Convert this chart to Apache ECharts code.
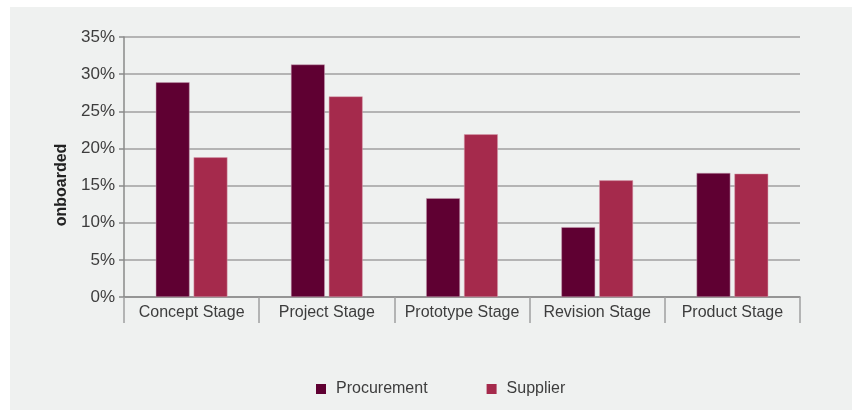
<!DOCTYPE html>
<html>
<head>
<meta charset="utf-8">
<script src="https://cdn.jsdelivr.net/npm/echarts@6/dist/echarts.min.js"></script>
<style>
  html, body { margin: 0; padding: 0; background: #ffffff; }
  #chart { width: 852px; height: 410px; }
</style>
</head>
<body>
<div id="chart"></div>
<script>
// Share of onboarding by stage, per group
const stages = ['Concept Stage', 'Project Stage', 'Prototype Stage', 'Revision Stage', 'Product Stage'];
const procurement = [28.9, 31.3, 13.3, 9.4, 16.7];
const supplier = [18.8, 27.0, 21.9, 15.7, 16.6];
const yTicks = [0, 5, 10, 15, 20, 25, 30, 35];
const yTitle = 'onboarded';

const FONT = '"Liberation Sans Narrow", "Arial Narrow", "Liberation Sans", sans-serif';
const TEXT = '#3d3d3d';

const chart = echarts.init(document.getElementById('chart'), null, { renderer: 'canvas' });

chart.setOption({
  backgroundColor: '#ffffff',
  animation: false,
  graphic: [
    {
      type: 'rect',
      left: 10, top: 7,
      shape: { width: 842, height: 403 },
      style: { fill: '#eff1f0' },
      z: -10
    },
    {
      type: 'text',
      x: 62, y: 185,
      rotation: Math.PI / 2,
      style: {
        text: yTitle,
        fontFamily: '"Liberation Sans", sans-serif',
        fontWeight: 'bold',
        fontSize: 16,
        fill: '#222222',
        align: 'center',
        verticalAlign: 'middle'
      }
    }
  ],
  grid: { left: 124, right: 52, top: 37, bottom: 113, containLabel: false },
  legend: {
    data: ['Procurement', 'Supplier'],
    top: 381,
    left: 316,
    padding: 0,
    itemWidth: 10, itemHeight: 10, itemGap: 59,
    icon: 'rect',
    itemStyle: { borderWidth: 0 },
    textStyle: { fontFamily: FONT, fontSize: 16, color: TEXT, padding: [0, 0, 0, 5] }
  },
  xAxis: {
    type: 'category',
    data: stages,
    axisLine: { lineStyle: { color: '#8a8a8a', width: 1.5 } },
    axisTick: { show: true, alignWithLabel: false, length: 26, lineStyle: { color: '#a0a0a0', width: 1.5 } },
    axisLabel: { fontFamily: FONT, fontSize: 16, color: TEXT, margin: 8, interval: 0 }
  },
  yAxis: {
    type: 'value',
    min: yTicks[0], max: yTicks[yTicks.length - 1], interval: 5,
    axisLine: { show: true, lineStyle: { color: '#8a8a8a', width: 1.5 } },
    axisTick: { show: true, length: 5, lineStyle: { color: '#8a8a8a', width: 1.5 } },
    axisLabel: { fontFamily: FONT, fontSize: 17, color: TEXT, margin: 9, formatter: '{value}%' },
    splitLine: { show: true, lineStyle: { color: '#b4b4b4', width: 2 } }
  },
  series: [
    {
      name: 'Procurement', type: 'bar', data: procurement,
      barWidth: '25%', barGap: '12%',
      itemStyle: { color: '#5f0032', borderColor: '#c9a0b4', borderWidth: 0.5 }
    },
    {
      name: 'Supplier', type: 'bar', data: supplier,
      barWidth: '25%',
      itemStyle: { color: '#a52a4c', borderColor: '#d9a0b0', borderWidth: 0.5 }
    }
  ]
});
</script>
</body>
</html>
